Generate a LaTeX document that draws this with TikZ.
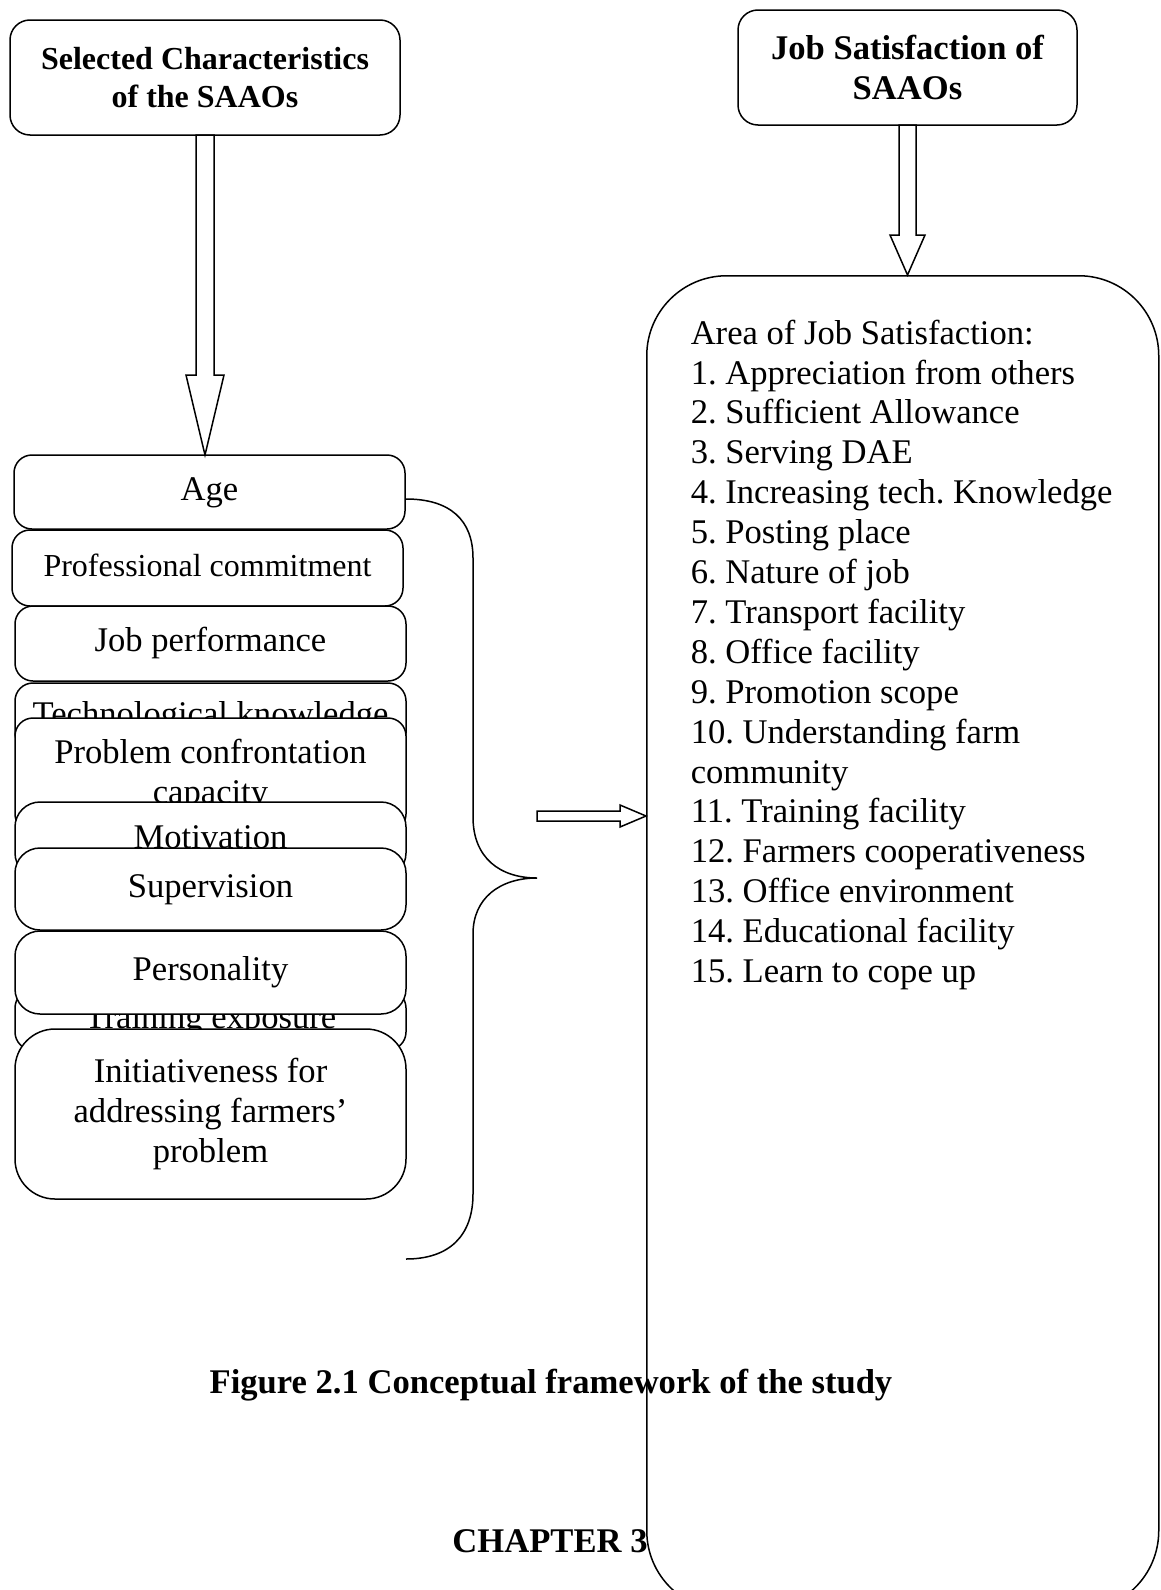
\documentclass[tikz,border=0pt]{standalone}
\usepackage{fontspec}
\setmainfont{Liberation Serif}
\usetikzlibrary{calc}
\frenchspacing
\newcommand\bodysize{\fontsize{34.6pt}{39.9pt}\selectfont}
\newcommand\smallsize{\fontsize{32pt}{37.5pt}\selectfont}
% hollow block arrows: from, to, shaft half width, head half width, head length
\newcommand\hollowdown[5]{\draw[hollow] ($(#1)+(-#3,0)$) -- ($(#1|-#2)+(-#3,-#5)$) -- ($(#1|-#2)+(-#4,-#5)$) -- (#1|-#2) -- ($(#1|-#2)+(#4,-#5)$) -- ($(#1|-#2)+(#3,-#5)$) -- ($(#1)+(#3,0)$) -- cycle;}
\newcommand\hollowright[5]{\draw[hollow] ($(#1)+(0,-#3)$) -- ($(#1-|#2)+(-#5,-#3)$) -- ($(#1-|#2)+(-#5,-#4)$) -- (#1-|#2) -- ($(#1-|#2)+(-#5,#4)$) -- ($(#1-|#2)+(-#5,#3)$) -- ($(#1)+(0,#3)$) -- cycle;}
\begin{document}
\begin{tikzpicture}[x=1pt,y=-1pt,line width=1.5pt,
  headbox/.style={draw, rounded corners=20pt, fill=white, inner sep=0pt, outer sep=0pt, anchor=north west, align=center, font=\smallsize\bfseries},
  factor/.style={draw, rounded corners=18pt, fill=white, inner sep=0pt, outer sep=0pt, anchor=north west, minimum width=391pt, align=center, font=\bodysize},
  oneline/.style={text height=24pt, text depth=8pt},
  hollow/.style={draw, fill=white, line join=miter}]
\useasboundingbox (0,0) rectangle (1160,1590);

% headings
\node[headbox, minimum width=390pt, minimum height=115pt] (sel) at (10,20) {Selected Characteristics\\of the SAAOs};
\node[headbox, minimum width=339pt, minimum height=115pt, font=\bodysize\bfseries] (js) at (738,10) {Job Satisfaction of\\SAAOs};

% stacked characteristics (later ones cover earlier ones)
\node[factor, oneline, minimum height=74pt] (age) at (14,455) {Age};
\node[factor, oneline, minimum height=76pt, font=\smallsize] (prof) at (12,530) {Professional commitment};
\node[factor, oneline, minimum height=75pt] (jobp) at (15,606) {Job performance};
\node[factor, oneline, minimum height=68pt] (tech) at (15,683) {Technological knowledge};
\node[factor, minimum height=114pt] (prob) at (15,718) {Problem confrontation\\capacity};
\node[factor, oneline, minimum height=76pt, rounded corners=25pt] (motiv) at (15,802) {Motivation};
\node[factor, oneline, minimum height=60pt] (train) at (15,990) {Training exposure};
\node[factor, oneline, minimum height=82pt, rounded corners=25pt] (superv) at (15,848) {Supervision};
\node[factor, oneline, minimum height=83pt, rounded corners=25pt] (pers) at (15,931) {Personality};
\node[factor, minimum height=170pt, rounded corners=40pt] (init) at (15,1029) {Initiativeness for\\addressing farmers’\\problem};

% area of job satisfaction
\node[draw, rounded corners=80pt, minimum width=512pt, minimum height=1335pt, anchor=north west, inner sep=0pt] (area) at (646,275) {};
\node[anchor=north west, align=left, font=\bodysize, inner sep=0pt] (arealist) at (690,319) {Area of Job Satisfaction:\\
1. Appreciation from others\\
2. Sufficient Allowance\\
3. Serving DAE\\
4. Increasing tech. Knowledge\\
5. Posting place\\
6. Nature of job\\
7. Transport facility\\
8. Office facility\\
9. Promotion scope\\
10. Understanding farm\\
community\\
11. Training facility\\
12. Farmers cooperativeness\\
13. Office environment\\
14. Educational facility\\
15. Learn to cope up};

% brace
\coordinate (bracetop) at (406,499);
\coordinate (bracetip) at (537,878);
\coordinate (bracebot) at (406,1259);
\draw (bracetop) .. controls (450,499) and (473,520) .. (473,558) -- (473,817)
  .. controls (473,858) and (500,878) .. (bracetip)
  .. controls (500,878) and (473,898) .. (473,934) -- (473,1194)
  .. controls (473,1235) and (450,1259) .. (bracebot);

% arrows
\hollowdown{sel.south}{age.north}{9}{19}{80}
\hollowdown{js.south}{area.north}{8.5}{17.5}{40}
\coordinate (arrstart) at (537,816);
\hollowright{arrstart}{area.west}{5}{11}{26}

% caption
\node[font=\bodysize\bfseries, anchor=base, inner sep=0pt] (caption) at (551,1393) {Figure 2.1 Conceptual framework of the study};
\node[font=\bodysize\bfseries, anchor=base, inner sep=0pt] (chapter) at (550,1552) {CHAPTER 3};
\end{tikzpicture}
\end{document}
